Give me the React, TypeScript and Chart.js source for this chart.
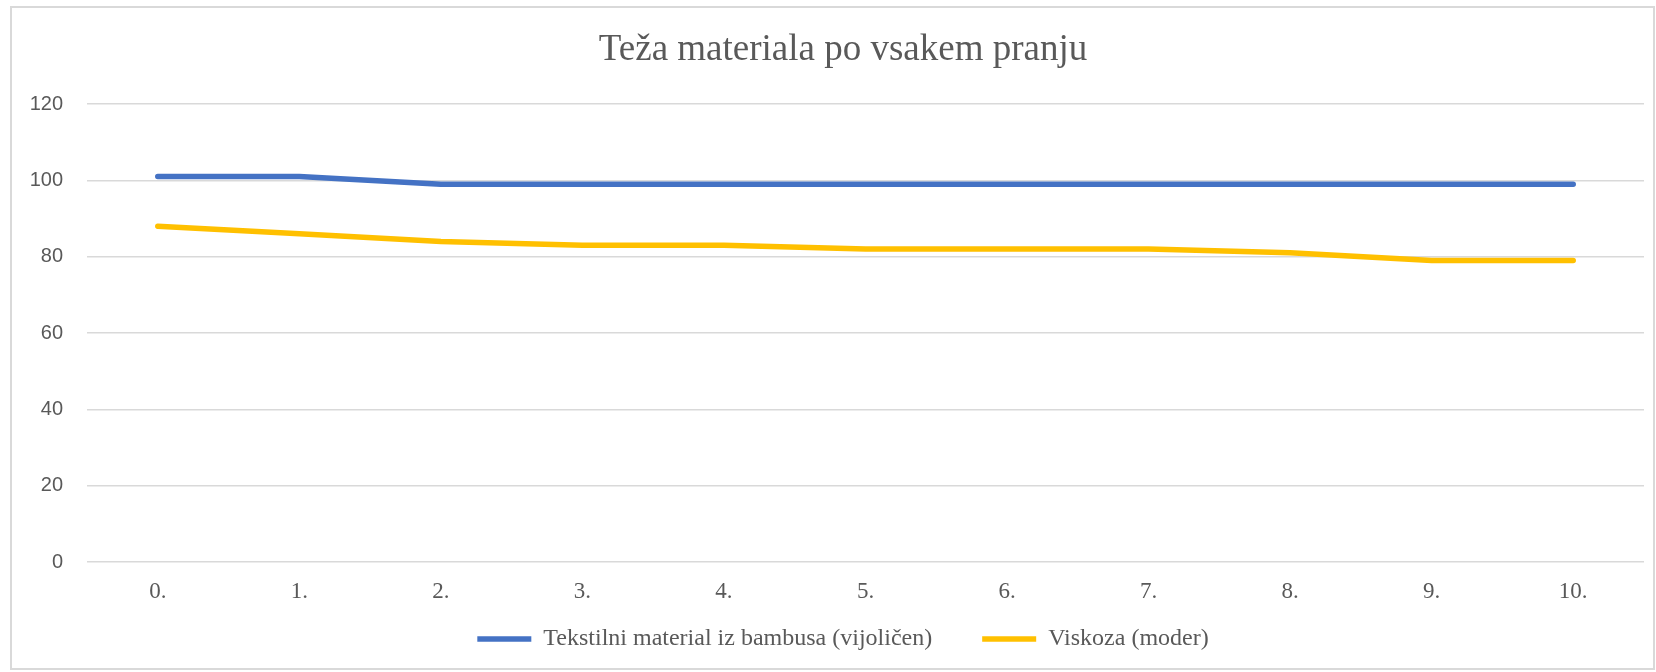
import React, { useEffect, useRef } from "react";
import { Chart, registerables } from "chart.js";

Chart.register(...registerables);

const chartTitle = "Teža materiala po vsakem pranju";
const categories = ["0.", "1.", "2.", "3.", "4.", "5.", "6.", "7.", "8.", "9.", "10."];
const bambooLabel = "Tekstilni material iz bambusa (vijoličen)";
const bambooValues = [101, 101, 99, 99, 99, 99, 99, 99, 99, 99, 99];
const viscoseLabel = "Viskoza (moder)";
const viscoseValues = [88, 86, 84, 83, 83, 82, 82, 82, 81, 79, 79];
const yMin = 0;
const yMax = 120;
const yStep = 20;

const CANVAS_W = 1690;
const CANVAS_H = 672;

export default function App() {
  const canvasRef = useRef<HTMLCanvasElement | null>(null);

  useEffect(() => {
    const canvas = canvasRef.current;
    if (!canvas) return;
    const chart = new Chart(canvas, {
      type: "line",
      data: {
        labels: categories,
        datasets: [
          {
            label: bambooLabel,
            data: bambooValues,
            borderColor: "#4472C4",
            backgroundColor: "#4472C4",
            borderWidth: 5.5,
            borderCapStyle: "round",
            borderJoinStyle: "round",
            pointRadius: 0,
            pointHoverRadius: 0,
            tension: 0,
            fill: false,
          },
          {
            label: viscoseLabel,
            data: viscoseValues,
            borderColor: "#FFC000",
            backgroundColor: "#FFC000",
            borderWidth: 5.5,
            borderCapStyle: "round",
            borderJoinStyle: "round",
            pointRadius: 0,
            pointHoverRadius: 0,
            tension: 0,
            fill: false,
          },
        ],
      },
      options: {
        responsive: false,
        animation: false,
        devicePixelRatio: 1,
        layout: { padding: { left: 20, right: 24, top: 0, bottom: 11 } },
        plugins: {
          title: {
            display: true,
            text: chartTitle,
            color: "#595959",
            font: { family: "'Liberation Serif', serif", size: 37, weight: "normal", lineHeight: 1.2 },
            padding: { top: 27.8, bottom: 31.8 },
          },
          legend: {
            position: "bottom",
            labels: {
              color: "#595959",
              font: { family: "'Liberation Serif', serif", size: 24, lineHeight: 1.2 },
              usePointStyle: true,
              pointStyle: "line",
              pointStyleWidth: 54,
              boxHeight: 24,
              padding: 50,
            },
          },
          tooltip: { enabled: false },
        },
        scales: {
          x: {
            offset: true,
            grid: { display: false, drawTicks: false },
            border: { display: false },
            ticks: {
              color: "#595959",
              font: { family: "'Liberation Serif', serif", size: 23, lineHeight: 1.2 },
              mirror: true,
              padding: -43.3,
              maxRotation: 0,
              autoSkip: false,
            },
            afterFit: (scale: any) => {
              scale.height = 15;
            },
          },
          y: {
            min: yMin,
            max: yMax,
            grid: { color: "#d9d9d9", lineWidth: 1.5, drawTicks: false },
            border: { display: false },
            ticks: {
              stepSize: yStep,
              color: "#595959",
              font: { family: "'Liberation Sans', sans-serif", size: 20 },
              padding: 24,
            },
            afterFit: (scale: any) => {
              scale.width = 67;
            },
          },
          ySpacer: {
            type: "linear",
            position: "right",
            display: true,
            grid: { display: false, drawTicks: false },
            border: { display: false },
            ticks: { display: false },
            afterFit: (scale: any) => {
              scale.width = 22;
            },
          },
        },
      },
    });
    return () => chart.destroy();
  }, []);

  return (
    <div
      style={{
        position: "absolute",
        left: 0,
        top: 0,
        width: 1656,
        height: 672,
        overflow: "hidden",
        background: "#ffffff",
      }}
    >
      <canvas
        ref={canvasRef}
        width={CANVAS_W}
        height={CANVAS_H}
        style={{ position: "absolute", left: 0, top: 0, width: CANVAS_W, height: CANVAS_H }}
      />
      <div
        style={{
          position: "absolute",
          left: 10,
          top: 6,
          width: 1645,
          height: 664,
          boxSizing: "border-box",
          border: "2px solid #d9d9d9",
          pointerEvents: "none",
        }}
      />
    </div>
  );
}
